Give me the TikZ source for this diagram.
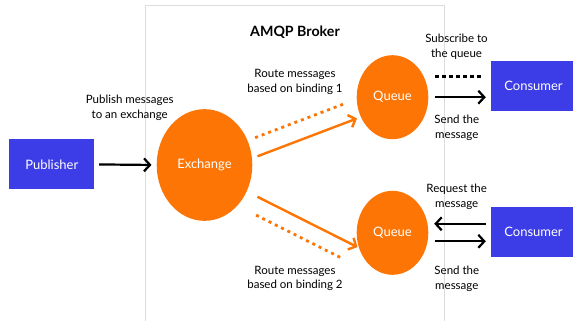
\documentclass[tikz,border=0pt]{standalone}
\usepackage{fontspec}
\setmainfont{Lato}
\usetikzlibrary{shapes.geometric,arrows.meta}
\definecolor{boxblue}{RGB}{61,61,232}
\definecolor{amqporange}{RGB}{252,117,5}
\definecolor{brokergray}{RGB}{220,220,220}
\tikzset{
  client/.style={rectangle,fill=boxblue,text=white,minimum width=85pt,minimum height=50pt,font=\fontsize{13}{15}\selectfont},
  blob/.style={ellipse,fill=amqporange,text=white,inner sep=0pt,font=\fontsize{13}{15}\selectfont},
  note/.style={align=center,font=\fontsize{11.5}{14.8}\selectfont},
  blackarr/.style={line width=2.2pt,-{Straight Barb[length=6pt,width=13pt]}},
  orangearr/.style={amqporange,line width=2.4pt,-{Straight Barb[length=6pt,width=13pt]}},
  orangedots/.style={amqporange,line width=2.8pt,dash pattern=on 3pt off 4pt},
  blackdots/.style={line width=3pt,dash pattern=on 4pt off 3pt}
}
\begin{document}
\begin{tikzpicture}[x=1pt,y=-1pt]
    \useasboundingbox (0,0) rectangle (573,321);
    % Marco del broker
    \draw[brokergray,line width=1pt] (145.7,330) -- (145.7,5.7) -- (444.3,5.7) -- (444.3,330);
    \node[font=\bfseries\fontsize{14.2}{16}\selectfont] (title) at (295,32.5) {AMQP Broker};
    \node[client] (pub) at (51.8,164.4) {Publisher};
    \node[blob,minimum width=95.6pt,minimum height=111.7pt] (ex) at (204.5,165) {Exchange};
    \node[blob,minimum width=71.6pt,minimum height=84pt] (q1) at (392.5,97.2) {Queue};
    \node[blob,minimum width=71.6pt,minimum height=84pt] (q2) at (392.5,232.8) {Queue};
    \node[client] (c1) at (533.5,86.2) {Consumer};
    \node[client] (c2) at (533.5,232.3) {Consumer};
    % Textos
    \node[note] (pubtxt) at (129.7,108) {Publish messages\\to an exchange};
    \node[note] (bind1) at (295,82) {Route messages\\based on binding 1};
    \node[note] (bind2) at (295,278.5) {Route messages\\based on binding 2};
    \node[note] (subtxt) at (456.5,47) {Subscribe to\\the queue};
    \node[note] (send1) at (456.8,128.2) {Send the\\message};
    \node[note] (reqtxt) at (456.7,197) {Request the\\message};
    \node[note] (send2) at (456.8,278.5) {Send the\\message};
    % Flechas
    \draw[blackarr,shorten <=4.7pt,shorten >=5pt] (pub.east) -- (ex.west);
    \draw[orangearr,shorten <=5.7pt,shorten >=4pt] (ex.8) -- (q1.212);
    \draw[orangedots,shorten <=3.2pt,shorten >=15.2pt] ([yshift=19.5pt]ex.8) -- ([yshift=19.5pt]q1.212);
    \draw[orangearr,shorten <=11.9pt,shorten >=1.5pt] (ex.-32) -- (q2.204);
    \draw[orangedots,shorten <=10.4pt,shorten >=19.4pt] ([yshift=-19pt]ex.-32) -- ([yshift=-19pt]q2.204);
    \draw[blackdots,shorten <=6.7pt,shorten >=8pt] ([yshift=21pt]q1.east) -- ([yshift=21pt]q1.east -| c1.west);
    \draw[blackarr,shorten <=6.5pt,shorten >=5pt] (q1.east) -- (q1.east -| c1.west);
    \draw[blackarr,shorten <=5.3pt,shorten >=5.7pt] ([yshift=8.5pt]c2.west) -- ([yshift=8.5pt]c2.west -| q2.east);
    \draw[blackarr,shorten <=6.5pt,shorten >=5pt] ([yshift=-8.5pt]q2.east) -- ([yshift=-8.5pt]q2.east -| c2.west);
\end{tikzpicture}
\end{document}
